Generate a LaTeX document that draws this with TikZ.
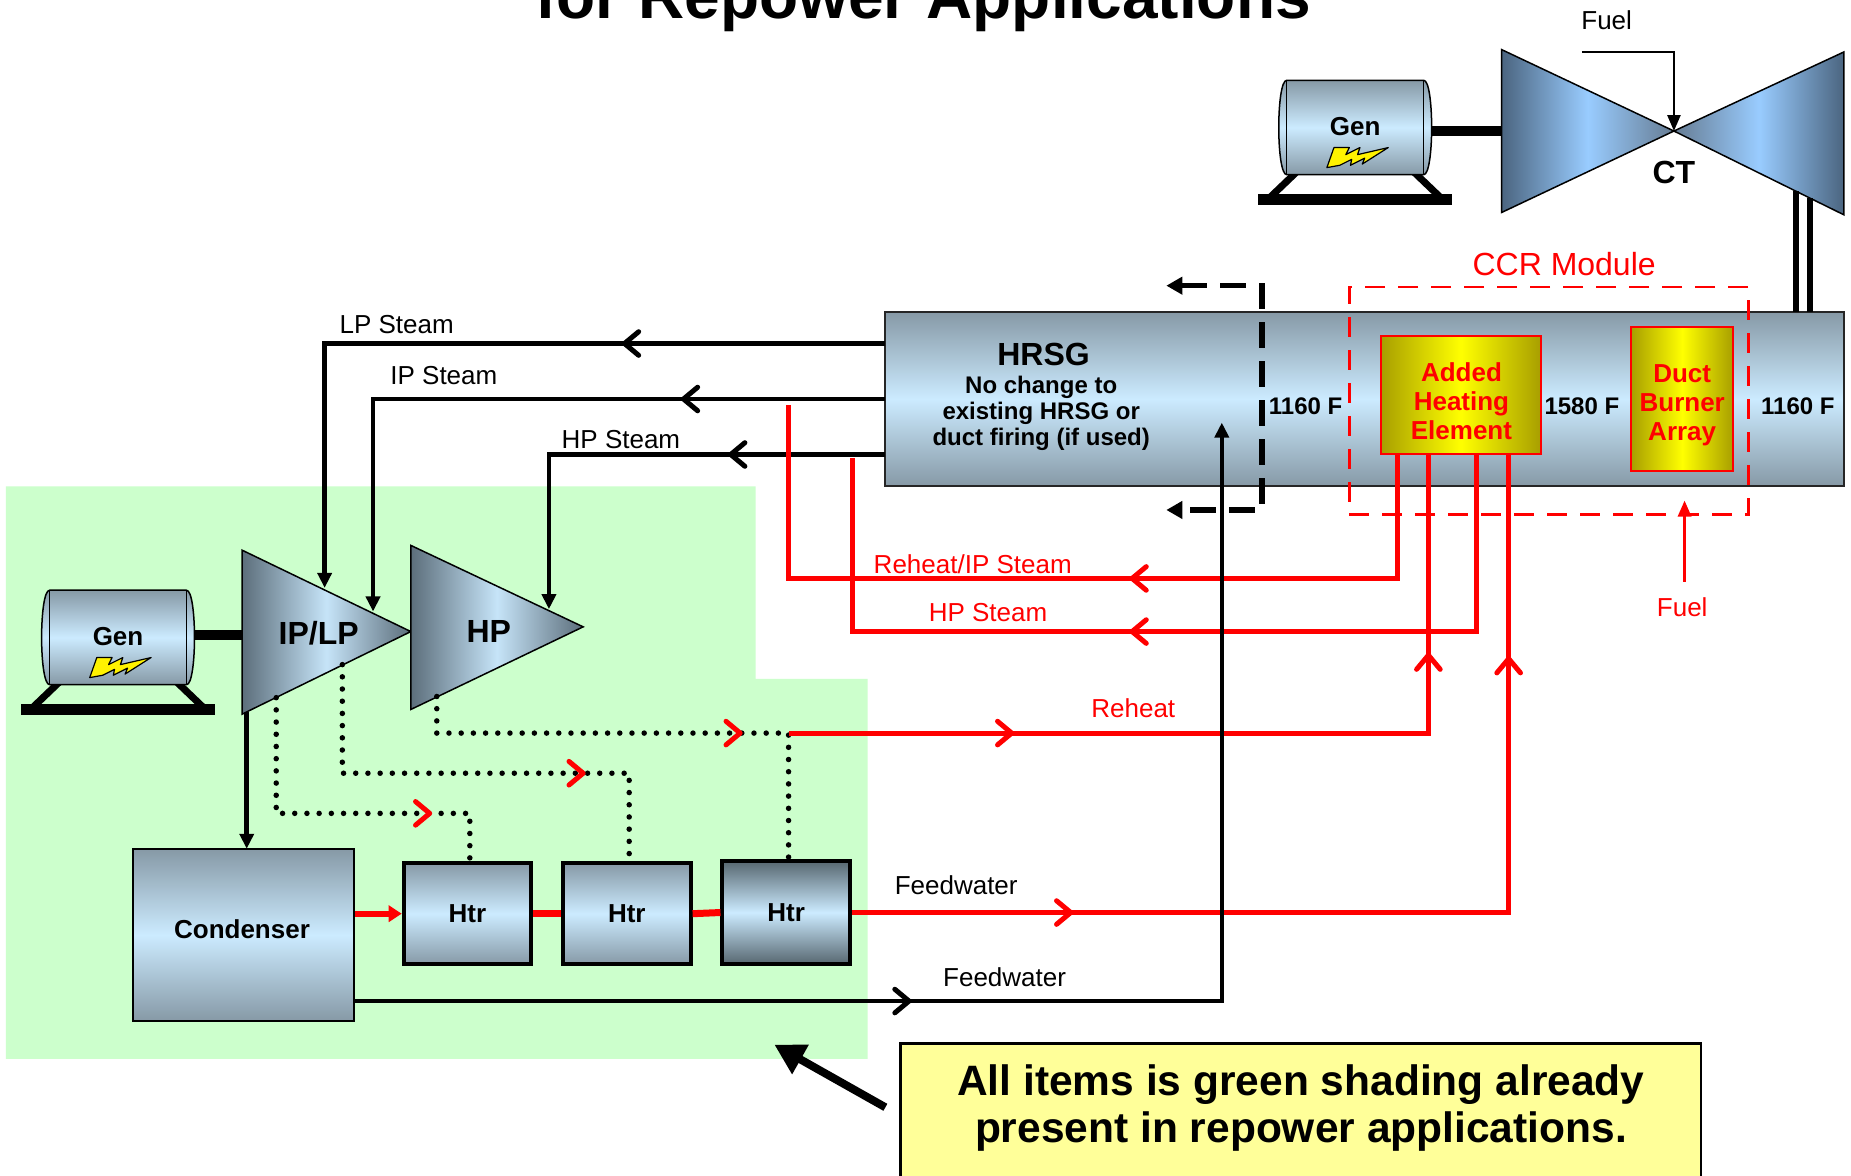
\documentclass[tikz,border=0pt]{standalone}
\usepackage{fontspec}
\setmainfont{Liberation Sans}
\usetikzlibrary{arrows.meta,fit}
\definecolor{greenbg}{HTML}{CCFFCC}
\definecolor{mgray}{HTML}{8699A6}
\definecolor{mlight}{HTML}{CCEBFF}
\definecolor{hdark}{HTML}{56666F}
\definecolor{tdark}{HTML}{5C6E7B}
\definecolor{tlight}{HTML}{C6E4F8}
\definecolor{ctdark}{HTML}{4B6580}
\definecolor{ctlight}{HTML}{99CCFF}
\definecolor{olive}{HTML}{A89F00}
\definecolor{callout}{HTML}{FFFF99}

\tikzset{
  lbl/.style={inner sep=0pt, font=\fontsize{26}{30}\selectfont},
  rlbl/.style={lbl, text=red},
  btxt/.style={inner sep=0pt, align=center, font=\bfseries\fontsize{#1}{#1}\selectfont},
  steam/.style={line width=4.5pt},
  redl/.style={draw=red, line width=5pt},
  tip/.style={-{Triangle[length=15pt,width=14pt]}},
  dots/.style={line width=5.5pt, line cap=round, dash pattern=on 0pt off 12.2pt},
  grad/.style={inner sep=0pt, top color=mgray, bottom color=mgray, middle color=mlight},
  chevL/.pic={\draw[line width=5pt, line cap=round, line join=round] (12,-10) -- (0,0) -- (12,10);},
  chevR/.pic={\draw[line width=5pt, line cap=round, line join=round] (-12,-10) -- (0,0) -- (-12,10);},
  chevU/.pic={\draw[line width=5pt, line cap=round, line join=round] (-10,12) -- (0,0) -- (10,12);},
  generator/.pic={
    \draw[line width=7pt] (-50,38) -- (-73,60);
    \draw[line width=7pt] (50,38) -- (73,60);
    \draw[line width=11pt] (-82,61) -- (82,61);
    \shadedraw[top color=mgray, bottom color=mgray, middle color=mlight, line width=1.5pt]
      (-58,-40) -- (58,-40) .. controls (67,-40) and (67,40) .. (58,40)
      -- (-58,40) .. controls (-67,40) and (-67,-40) .. (-58,-40) -- cycle;
    \draw[line width=1.5pt] (-58,-40) -- (-58,40) (58,-40) -- (58,40);
    \node[btxt=26] at (0,-1) {Gen};
    \filldraw[fill=yellow, line width=1.2pt, line join=round]
      (-24,34) -- (-18,17) -- (-5,17) -- (-8,23) -- (4,17) -- (2,23) -- (28,17)
      -- (6,31) -- (8,26) -- (-4,32) -- (-3,27) -- (-13,32) -- cycle;
  }
}

\begin{document}
\begin{tikzpicture}[x=1.1805pt, y=-1.1805pt]
\clip (0,0) rectangle (1568,996);
\fill[white] (0,0) rectangle (1568,996);

% title line
\node[inner sep=0pt, anchor=base, font=\bfseries\fontsize{64}{70}\selectfont] (title) at (782,16) {for Repower Applications};

% existing-plant area
\fill[greenbg] (5,412) -- (640,412) -- (640,575) -- (735,575) -- (735,897) -- (5,897) -- cycle;

% HRSG and CCR module
\node[grad, draw=black!85, line width=2pt, fit={(750,264)(1562,412)}] (hrsg) {};
\node[btxt=32] (hrsgT) at (884,300) {HRSG};
\node[inner sep=0pt, align=center, font=\bfseries\fontsize{24}{26}\selectfont] (hrsgS) at (882,350)
  {No change to\\existing HRSG or\\duct firing (if used)};
\node[btxt=24] (t1) at (1106,344) {1160 F};
\node[btxt=24] (t2) at (1340,344) {1580 F};
\node[btxt=24] (t3) at (1523,344) {1160 F};

\node[inner sep=0pt, draw=red, line width=2.5pt, dash pattern=on 20pt off 13pt, fit={(1143,243)(1481,436)}] (ccr) {};
\node[inner sep=0pt, text=red, font=\fontsize{32}{34}\selectfont] (ccrT) at (1325,224) {CCR Module};

\node[inner sep=0pt, draw=red, line width=2pt, left color=olive, right color=olive, middle color=yellow, fit={(1170,285)(1305,385)}] (ahe) {};
\node[inner sep=0pt, align=center, text=red, font=\bfseries\fontsize{26}{29}\selectfont] (aheT) at (1238,340) {Added\\Heating\\Element};
\node[inner sep=0pt, draw=red, line width=2pt, left color=olive, right color=olive, middle color=yellow, fit={(1382,277)(1468,399)}] (dba) {};
\node[inner sep=0pt, align=center, text=red, font=\bfseries\fontsize{26}{29}\selectfont] (dbaT) at (1425,343) {Duct\\Burner\\Array};

% fuel to duct burners
\coordinate (fuelB) at (1427,493);
\coordinate (fuelT) at (1427,424);
\draw[red, line width=3pt, -{Triangle[length=16pt,width=13pt]}] (fuelB) -- (fuelT);
\node[rlbl] (fuelR) at (1425,514) {Fuel};

% steam mains from HRSG to the steam turbines
\coordinate (lpOut) at (750,291);  \coordinate (lpIn) at (275,498);
\coordinate (ipOut) at (750,338);  \coordinate (ipIn) at (316,518);
\coordinate (hpOut) at (750,385);  \coordinate (hpIn) at (465,516);
\draw[steam, tip] (lpOut) -| (lpIn);
\draw[steam, tip] (ipOut) -| (ipIn);
\draw[steam, tip] (hpOut) -| (hpIn);
\pic at (529,291) {chevL};
\pic at (579,338) {chevL};
\pic at (619,385) {chevL};
\node[lbl] (lpT) at (336,275) {LP Steam};
\node[lbl] (ipT) at (376,318) {IP Steam};
\node[lbl] (hpT) at (526,372) {HP Steam};

% steam turbines
\shadedraw[left color=tdark, right color=tdark, middle color=tlight, line width=1.5pt]
  (205,466) -- (348,535) -- (205,605) -- cycle;
\shadedraw[left color=tdark, right color=tdark, middle color=tlight, line width=1.5pt]
  (348,462) -- (494,531) -- (348,601) -- cycle;
\node[btxt=32] (iplp) at (270,536) {IP/LP};
\node[btxt=32] (hp) at (414,535) {HP};

% steam-turbine generator
\draw[line width=10pt] (160,538) -- (206,538);
\pic at (100,540) {generator};

% condenser and feedwater heaters
\node[grad, draw=black, line width=2pt, fit={(113,719)(300,865)}] (cond) {};
\node[btxt=26] (condT) at (205,787) {Condenser};
\node[grad, draw=black, line width=4pt, fit={(342,731)(450,817)}] (h1) {};
\node[grad, draw=black, line width=4pt, fit={(477,731)(585,817)}] (h2) {};
\node[inner sep=0pt, top color=hdark, bottom color=hdark, middle color=mlight, draw=black, line width=4pt, fit={(612,729)(720,817)}] (h3) {};
\node[btxt=26] at (h1) {Htr};
\node[btxt=26] at (h2) {Htr};
\node[btxt=26] at (h3) {Htr};

\coordinate (exIL) at (209,603);
\coordinate (condTop) at (209,719);
\draw[steam, tip] (exIL) -- (condTop);

% extraction steam to heaters
\coordinate (x1) at (234,591);  \coordinate (h1t) at (398,731);
\coordinate (x2) at (290,563);  \coordinate (h2t) at (533,731);
\coordinate (x3) at (370,590);  \coordinate (h3t) at (668,729);
\coordinate (rhJ) at (668,621);
\draw[dots] (x1) -- (234,689) -| (h1t);
\draw[dots] (x2) -- (290,655) -| (h2t);
\draw[dots] (x3) -- (370,621) -- (rhJ) -- (h3t);
\pic[red] at (364,689) {chevR};
\pic[red] at (494,655) {chevR};
\pic[red] at (627,621) {chevR};

% red condensate / feedwater train
\draw[red, line width=6pt, -{Triangle[length=13pt,width=16pt]}] (cond.east |- h1.west) -- (h1.west);
\draw[red, line width=7pt] (h1.east) -- (h2.west);
\draw[red, line width=7pt] (h2.east) -- (h3.west);

% CCR piping
\coordinate (a1) at (1184,385); \coordinate (a2) at (1210,385);
\coordinate (a3) at (1251,385); \coordinate (a4) at (1278,385);
\coordinate (ripEnd) at (668,343);
\coordinate (hpsEnd) at (722,388);
\draw[redl, line join=miter] (a1) -- (1184,490) -- (668,490) -- (ripEnd);
\draw[redl, line join=miter] (a3) -- (1251,535) -- (722,535) -- (hpsEnd);
\draw[redl, line join=miter] (rhJ) -- (1210,621) -- (a2);
\draw[redl, line join=miter] (h3.east) -- (1278,773) -- (a4);
\pic[red] at (959,490) {chevL};
\pic[red] at (959,535) {chevL};
\pic[red] at (857,621) {chevR};
\pic[red] at (1210,555) {chevU};
\pic[red] at (907,773) {chevR};
\pic[red] at (1278,558) {chevU};
\node[rlbl] (ripT) at (824,478) {Reheat/IP Steam};
\node[rlbl] (hpsT) at (837,519) {HP Steam};
\node[rlbl] (rhT) at (960,600) {Reheat};
\node[lbl] (fw1) at (810,750) {Feedwater};

% existing feedwater line to the HRSG
\coordinate (fwIn) at (1035,358);
\draw[steam, tip, line join=miter] (cond.east |- 0,848) -- (1035,848) -- (fwIn);
\pic at (770,848) {chevR};
\node[lbl] (fw2) at (851,828) {Feedwater};

% HRSG inlet/outlet boundary
\coordinate (bdTop) at (988,242);
\coordinate (bdBot) at (988,432);
\draw[line width=5.5pt, dash pattern=on 26pt off 13pt, line join=miter,
      {Triangle[length=16pt,width=17pt]}-{Triangle[length=16pt,width=17pt]}]
  (bdTop) -- (1069,242) -- (1069,432) -- (bdBot);

% combustion turbine and its generator
\draw[line width=10pt] (1205,111) -- (1273,111);
\pic at (1148,108) {generator};
\shadedraw[left color=ctdark, right color=ctdark!85!white, middle color=ctlight, line width=1.5pt]
  (1272,42) -- (1418,111) -- (1272,180) -- cycle;
\shadedraw[left color=ctdark!85!white, right color=ctdark, middle color=ctlight, line width=1.5pt]
  (1562,44) -- (1418,111) -- (1562,182) -- cycle;
\node[btxt=32] (ct) at (1418,146) {CT};
\coordinate (ctFuel) at (1340,44);
\coordinate (ctComb) at (1418,111);
\draw[line width=2.5pt, -{Triangle[length=16pt,width=13pt]}] (ctFuel) -| (ctComb);
\node[lbl] (fuelC) at (1361,17) {Fuel};
% CT exhaust duct into the HRSG
\draw[line width=6pt] (1521,162) -- (1521,264);
\draw[line width=6pt] (1533,168) -- (1533,264);

% note
\node[inner sep=0pt, draw=black, line width=2.5pt, fill=callout, fit={(763,884)(1441,1010)}] (note) {};
\node[inner sep=0pt, align=center, font=\bfseries\fontsize{42.5}{47}\selectfont] (noteT) at (1102,939)
  {All items is green shading already\\present in repower applications.};
\coordinate (ptr) at (656,885);
\draw[line width=8pt, -{Triangle[length=30pt,width=32pt]}] (750,938) -- (ptr);
\end{tikzpicture}
\end{document}
